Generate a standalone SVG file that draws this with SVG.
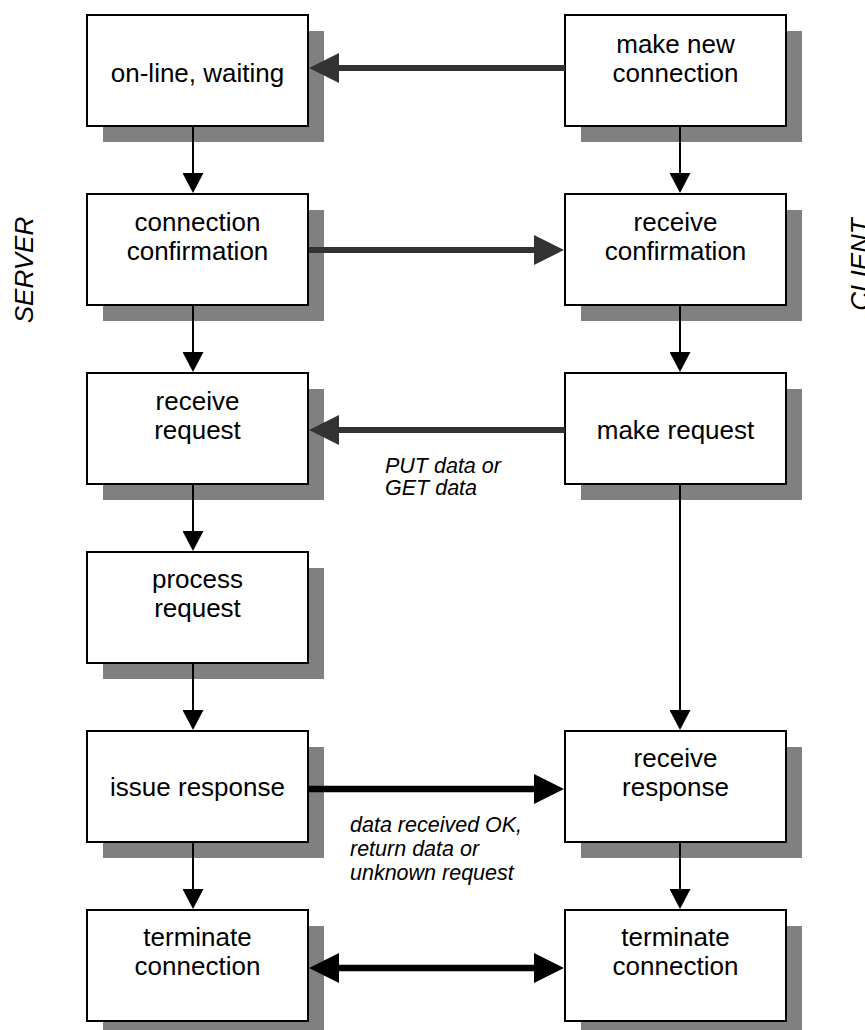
<svg xmlns="http://www.w3.org/2000/svg" width="865" height="1030" viewBox="0 0 865 1030">
<style>
.sh{fill:#808080}
.bx{fill:#fff;stroke:#000;stroke-width:2}
.t{font-family:"Liberation Sans",Arial,sans-serif;font-size:26px;fill:#000;text-anchor:middle}
.lbl{font-family:"Liberation Sans",Arial,sans-serif;font-size:21.5px;font-style:italic;fill:#000}
.side{font-family:"Liberation Sans",Arial,sans-serif;font-size:26px;font-style:italic;fill:#000;text-anchor:middle}
.v{stroke:#000;stroke-width:2;fill:none}
.hg{stroke:#333;stroke-width:6;fill:none}
.hk{stroke:#000;stroke-width:6.5;fill:none}
</style>
<defs>
<marker id="ag" markerUnits="userSpaceOnUse" markerWidth="30" markerHeight="30" viewBox="0 0 30 30" refX="1" refY="15" orient="auto"><path d="M0,0 L30,15 L0,30 z" fill="#333"/></marker>
<marker id="ak" markerUnits="userSpaceOnUse" markerWidth="30" markerHeight="30" viewBox="0 0 30 30" refX="1" refY="15" orient="auto-start-reverse"><path d="M0,0 L30,15 L0,30 z" fill="#000"/></marker>
<marker id="av" markerUnits="userSpaceOnUse" markerWidth="20" markerHeight="21" viewBox="0 0 20 21" refX="1" refY="10.5" orient="auto"><path d="M0,0 L20,10.5 L0,21 z" fill="#000"/></marker>
</defs>
<rect width="865" height="1030" fill="#fff"/>

<text class="side" transform="translate(33,270) rotate(-90)">SERVER</text>
<text class="side" transform="translate(869,264.5) rotate(-90)">CLIENT</text>

<g id="n-online">
<rect class="sh" x="103" y="31" width="221" height="111"/>
<rect class="bx" x="87" y="15" width="221" height="111"/>
<text class="t" x="197.5" y="82">on-line, waiting</text>
</g>
<g id="n-makenew">
<rect class="sh" x="581" y="31" width="221" height="111"/>
<rect class="bx" x="565" y="15" width="221" height="111"/>
<text class="t" x="675.5" y="53">make new</text>
<text class="t" x="675.5" y="82">connection</text>
</g>
<g id="n-connconf">
<rect class="sh" x="103" y="210" width="221" height="111"/>
<rect class="bx" x="87" y="194" width="221" height="111"/>
<text class="t" x="197.5" y="231">connection</text>
<text class="t" x="197.5" y="260">confirmation</text>
</g>
<g id="n-recvconf">
<rect class="sh" x="581" y="210" width="221" height="111"/>
<rect class="bx" x="565" y="194" width="221" height="111"/>
<text class="t" x="675.5" y="231">receive</text>
<text class="t" x="675.5" y="260">confirmation</text>
</g>
<g id="n-recvreq">
<rect class="sh" x="103" y="389" width="221" height="111"/>
<rect class="bx" x="87" y="373" width="221" height="111"/>
<text class="t" x="197.5" y="410">receive</text>
<text class="t" x="197.5" y="439">request</text>
</g>
<g id="n-makereq">
<rect class="sh" x="581" y="389" width="221" height="111"/>
<rect class="bx" x="565" y="373" width="221" height="111"/>
<text class="t" x="675.5" y="439">make request</text>
</g>
<g id="n-procreq">
<rect class="sh" x="103" y="568" width="221" height="111"/>
<rect class="bx" x="87" y="552" width="221" height="111"/>
<text class="t" x="197.5" y="588">process</text>
<text class="t" x="197.5" y="617">request</text>
</g>
<g id="n-issueresp">
<rect class="sh" x="103" y="747" width="221" height="111"/>
<rect class="bx" x="87" y="731" width="221" height="111"/>
<text class="t" x="197.5" y="796">issue response</text>
</g>
<g id="n-recvresp">
<rect class="sh" x="581" y="747" width="221" height="111"/>
<rect class="bx" x="565" y="731" width="221" height="111"/>
<text class="t" x="675.5" y="767">receive</text>
<text class="t" x="675.5" y="796">response</text>
</g>
<g id="n-termS">
<rect class="sh" x="103" y="926" width="221" height="111"/>
<rect class="bx" x="87" y="910" width="221" height="111"/>
<text class="t" x="197.5" y="946">terminate</text>
<text class="t" x="197.5" y="975">connection</text>
</g>
<g id="n-termC">
<rect class="sh" x="581" y="926" width="221" height="111"/>
<rect class="bx" x="565" y="910" width="221" height="111"/>
<text class="t" x="675.5" y="946">terminate</text>
<text class="t" x="675.5" y="975">connection</text>
</g>

<g id="connectors">
<line class="v" x1="193" y1="127" x2="193" y2="174" marker-end="url(#av)"/>
<line class="v" x1="193" y1="306" x2="193" y2="353" marker-end="url(#av)"/>
<line class="v" x1="193" y1="485" x2="193" y2="532" marker-end="url(#av)"/>
<line class="v" x1="193" y1="664" x2="193" y2="711" marker-end="url(#av)"/>
<line class="v" x1="193" y1="843" x2="193" y2="890" marker-end="url(#av)"/>
<line class="v" x1="680" y1="127" x2="680" y2="174" marker-end="url(#av)"/>
<line class="v" x1="680" y1="306" x2="680" y2="353" marker-end="url(#av)"/>
<line class="v" x1="680" y1="485" x2="680" y2="711" marker-end="url(#av)"/>
<line class="v" x1="680" y1="843" x2="680" y2="890" marker-end="url(#av)"/>

<line class="hg" x1="565" y1="68" x2="338" y2="68" marker-end="url(#ag)"/>
<line class="hg" x1="309" y1="250" x2="535" y2="250" marker-end="url(#ag)"/>
<line class="hg" x1="565" y1="430" x2="338" y2="430" marker-end="url(#ag)"/>
<line class="hk" x1="309" y1="789" x2="535" y2="789" marker-end="url(#ak)"/>
<line class="hk" x1="338" y1="968" x2="535" y2="968" marker-start="url(#ak)" marker-end="url(#ak)"/>

<text class="lbl" x="385" y="473">PUT data or</text>
<text class="lbl" x="385" y="495">GET data</text>
<text class="lbl" x="350" y="832">data received OK,</text>
<text class="lbl" x="350" y="856">return data or</text>
<text class="lbl" x="350" y="880">unknown request</text>
</g>
</svg>
